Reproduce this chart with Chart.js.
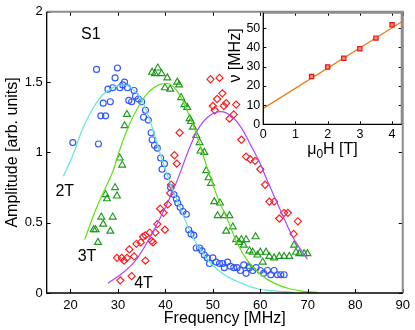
<!DOCTYPE html>
<html lang="en">
<head>
    <meta charset="UTF-8">
    <title>S1 resonance amplitude</title>
    <script src="https://cdn.jsdelivr.net/npm/chart.js"></script>
    <style>
        html, body { margin: 0; padding: 0; background: #fff; }
        #wrap { position: relative; width: 415px; height: 330px; }
        #main { position: absolute; left: 0; top: 0; }
        #inset { position: absolute; left: 225px; top: 0; }
    </style>
</head>
<body>
<div id="wrap">
    <canvas id="main" width="415" height="330"></canvas>
    <canvas id="inset" width="190" height="160"></canvas>
</div>
<script>
    // ---- main panel: amplitude vs frequency ----
    const freqTicks = [20, 30, 40, 50, 60, 70, 80, 90];
    const ampTicks = [0, 0.5, 1, 1.5, 2];

    // measured points [MHz, amplitude]
    const pts2T = [
        [20.5, 1.07], [25.5, 1.59], [25.9, 1.06], [26.4, 1.26], [26.9, 1.35], [27.4, 1.26],
        [27.9, 1.45], [28.4, 1.36], [28.9, 1.46], [29.4, 1.53], [29.9, 1.60], [30.4, 1.46],
        [31.0, 1.48], [31.4, 1.50], [32.0, 1.46], [32.3, 1.37], [32.9, 1.36], [33.4, 1.44],
        [33.7, 1.40], [34.3, 1.38], [35.0, 1.36], [35.4, 1.25], [35.8, 1.30], [36.4, 1.23],
        [37.0, 1.14], [37.2, 1.09], [37.7, 1.05], [38.3, 1.03], [39.0, 0.96], [39.3, 0.88],
        [39.8, 0.92], [40.4, 0.83], [41.1, 0.75], [41.8, 0.70], [42.3, 0.67], [42.6, 0.64],
        [43.1, 0.61], [43.7, 0.58], [44.4, 0.56], [44.9, 0.45], [45.4, 0.42], [46.0, 0.41],
        [46.5, 0.32], [47.2, 0.32], [47.7, 0.30], [48.2, 0.27], [48.8, 0.25], [49.3, 0.21],
        [50.0, 0.25], [50.7, 0.22], [51.4, 0.21], [52.1, 0.21], [52.4, 0.18], [53.1, 0.22],
        [53.7, 0.19], [54.4, 0.18], [55.1, 0.18], [55.8, 0.16], [56.5, 0.20], [57.0, 0.14],
        [57.7, 0.18], [58.4, 0.16], [59.1, 0.18], [60.0, 0.16], [60.7, 0.14], [61.5, 0.16],
        [62.2, 0.13], [62.9, 0.16], [63.6, 0.13], [64.3, 0.13], [65.0, 0.13]
    ];
    const pts3T = [
        [24.9, 0.45], [25.3, 0.45], [25.8, 0.36], [26.5, 0.54], [26.9, 0.49], [27.4, 0.70],
        [27.7, 0.67], [28.4, 0.44], [28.9, 0.54], [29.4, 0.75], [29.8, 0.69], [30.4, 0.96],
        [30.9, 0.91], [31.4, 1.19], [31.9, 1.27], [37.2, 1.57], [37.8, 1.56], [38.4, 1.60],
        [39.2, 1.56], [39.9, 1.46], [40.4, 1.53], [41.0, 1.45], [42.5, 1.50], [42.9, 1.48],
        [43.3, 1.39], [44.0, 1.34], [44.6, 1.32], [45.1, 1.24], [45.4, 1.22], [45.8, 1.18],
        [46.5, 1.12], [47.2, 1.07], [47.4, 1.01], [48.2, 1.00], [48.6, 0.87], [49.1, 0.82],
        [49.6, 0.78], [50.3, 0.65], [51.5, 0.64], [51.0, 0.55], [52.4, 0.55], [53.5, 0.55],
        [52.8, 0.44], [54.2, 0.47], [54.9, 0.38], [55.5, 0.36], [56.0, 0.38], [56.5, 0.34],
        [57.0, 0.38], [57.5, 0.19], [57.7, 0.30], [58.4, 0.29], [59.0, 0.40], [59.4, 0.27],
        [60.0, 0.29], [60.5, 0.22], [61.2, 0.29], [61.9, 0.26], [62.9, 0.25], [64.0, 0.26],
        [65.0, 0.26], [66.1, 0.26], [67.1, 0.34], [67.5, 0.29], [68.2, 0.28], [69.2, 0.28],
        [69.9, 0.28]
    ];
    const pts4T = [
        [29.8, 0.25], [30.5, 0.09], [30.8, 0.25], [31.3, 0.23], [31.9, 0.25], [32.4, 0.31],
        [32.9, 0.12], [33.4, 0.26], [33.9, 0.35], [34.8, 0.36], [35.3, 0.40], [35.8, 0.41],
        [35.8, 0.23], [36.7, 0.43], [37.1, 0.37], [37.4, 0.36], [37.9, 0.43], [38.3, 0.49],
        [38.9, 0.60], [39.6, 0.57], [39.9, 0.45], [40.5, 0.63], [41.0, 0.71], [41.2, 0.77],
        [41.9, 0.98], [42.4, 0.92], [43.0, 1.14], [49.5, 1.52], [51.4, 1.53], [52.0, 1.42],
        [50.9, 1.38], [50.0, 1.33], [52.8, 1.35], [52.3, 1.33], [54.9, 1.34], [50.4, 1.30],
        [54.4, 1.27], [53.5, 1.24], [56.0, 1.09], [57.0, 0.97], [57.9, 0.95], [58.9, 0.94],
        [60.0, 0.88], [61.0, 0.77], [61.9, 0.65], [62.9, 0.65], [64.0, 0.53], [65.0, 0.57],
        [65.8, 0.57], [67.0, 0.42], [67.9, 0.51]
    ];

    // fitted curves
    const fit2T = [
        [18.5, 0.83], [20.5, 0.98], [22.6, 1.17], [24.7, 1.31], [26.8, 1.41], [28.9, 1.46],
        [31.0, 1.48], [33.1, 1.45], [35.2, 1.36], [37.3, 1.17], [39.0, 0.98], [40.4, 0.84],
        [41.5, 0.74], [43.3, 0.59], [45.4, 0.42], [47.5, 0.30], [49.6, 0.21], [52.4, 0.13],
        [56.0, 0.07], [59.4, 0.03], [63.0, 0.015], [67.0, 0.005]
    ];
    const fit3T = [
        [23.0, 0.38], [25.3, 0.59], [27.4, 0.75], [28.9, 0.86], [30.2, 1.00], [32.3, 1.19],
        [34.4, 1.33], [36.5, 1.43], [38.6, 1.48], [40.5, 1.49], [42.6, 1.43], [44.7, 1.29],
        [46.8, 1.10], [48.9, 0.88], [51.0, 0.68], [53.1, 0.52], [55.2, 0.35], [57.3, 0.23],
        [60.1, 0.13], [62.9, 0.07], [66.1, 0.03], [69.0, 0.012], [72.0, 0.005]
    ];
    const fit4T = [
        [27.9, 0.07], [30.9, 0.14], [33.7, 0.23], [36.5, 0.38], [39.0, 0.54], [41.1, 0.69],
        [42.6, 0.81], [44.7, 1.00], [46.8, 1.16], [48.9, 1.25], [51.7, 1.29], [53.8, 1.26],
        [55.9, 1.18], [58.0, 1.05], [60.1, 0.91], [61.2, 0.82], [63.3, 0.66], [65.0, 0.53],
        [66.8, 0.40], [69.9, 0.24]
    ];

    const panelLabels = ['S1', '2T', '3T', '4T'];
    const panelLabelAt = [[24.3, 1.84], [18.8, 0.72], [23.5, 0.26], [35.4, 0.07]];

    // ---- inset: resonance frequency vs field ----
    const fieldT = [1.5, 2, 2.5, 3, 3.5, 4];
    const resFreq = [24.8, 29.8, 34.3, 39.3, 44.8, 51.7];
    const lineField = [0, 4.3];
    const lineFreq = [8.3, 53.3];
    const fieldTicks = [0, 1, 2, 3, 4];
    const nuTicks = [0, 10, 20, 30, 40, 50];

    const FONT = '"Liberation Sans", Arial, Helvetica, sans-serif';
    Chart.defaults.font.family = FONT;
    Chart.defaults.color = '#000';

    const xy = arr => arr.map(([x, y]) => ({ x, y }));

    function setTicks(values) {
        return scale => { scale.ticks = values.map(v => ({ value: v })); };
    }

    // inward ticks + matlab style box
    function framePlugin(tickLen) {
        return {
            id: 'frame',
            afterDraw(chart) {
                const { ctx, chartArea: a, scales: { x, y } } = chart;
                ctx.save();
                ctx.strokeStyle = '#000';
                ctx.lineWidth = 1;
                ctx.beginPath();
                x.ticks.forEach(t => {
                    const px = Math.round(x.getPixelForValue(t.value)) + 0.5;
                    ctx.moveTo(px, a.bottom); ctx.lineTo(px, a.bottom - tickLen);
                    ctx.moveTo(px, a.top); ctx.lineTo(px, a.top + tickLen);
                });
                y.ticks.forEach(t => {
                    const py = Math.round(y.getPixelForValue(t.value)) + 0.5;
                    ctx.moveTo(a.left, py); ctx.lineTo(a.left + tickLen, py);
                    ctx.moveTo(a.right, py); ctx.lineTo(a.right - tickLen, py);
                });
                ctx.stroke();

                ctx.strokeStyle = '#8c8c8c';
                ctx.lineWidth = 2;
                ctx.beginPath();
                ctx.moveTo(a.left, a.top); ctx.lineTo(a.right, a.top); ctx.lineTo(a.right, a.bottom);
                ctx.stroke();

                ctx.strokeStyle = '#000';
                ctx.lineWidth = 1.3;
                ctx.beginPath();
                ctx.moveTo(a.left, a.top); ctx.lineTo(a.left, a.bottom); ctx.lineTo(a.right, a.bottom);
                ctx.stroke();
                ctx.restore();
            }
        };
    }

    const panelText = {
        id: 'panelText',
        afterDatasetsDraw(chart) {
            const { ctx, scales: { x, y } } = chart;
            ctx.save();
            ctx.font = '16px ' + FONT;
            ctx.fillStyle = '#000';
            ctx.textAlign = 'center';
            ctx.textBaseline = 'middle';
            panelLabels.forEach((t, i) => {
                ctx.fillText(t, x.getPixelForValue(panelLabelAt[i][0]), y.getPixelForValue(panelLabelAt[i][1]));
            });
            ctx.restore();
        }
    };

    const curve = (data, color) => ({
        data: xy(data), showLine: true, borderColor: color, borderWidth: 1.2,
        pointRadius: 0, cubicInterpolationMode: 'monotone', fill: false
    });
    const marks = (data, style, color, r) => ({
        data: xy(data), showLine: false, pointStyle: style, pointRadius: r,
        pointBorderColor: color, pointBackgroundColor: 'rgba(0,0,0,0)', pointBorderWidth: 1.15
    });

    new Chart(document.getElementById('main'), {
        type: 'scatter',
        data: {
            datasets: [
                curve(fit2T, '#62e8d6'),
                curve(fit3T, '#5ee014'),
                curve(fit4T, '#b044ff'),
                marks(pts2T, 'circle', '#3355ff', 3),
                marks(pts3T, 'triangle', '#1e9a1e', 4),
                marks(pts4T, 'rectRot', '#ff1a1a', 3.6)
            ]
        },
        options: {
            responsive: false,
            animation: false,
            devicePixelRatio: 1,
            layout: { padding: { top: 11, right: 11, left: 0, bottom: 0 } },
            plugins: { legend: { display: false }, tooltip: { enabled: false } },
            scales: {
                x: {
                    type: 'linear', min: 15, max: 90,
                    afterBuildTicks: setTicks(freqTicks),
                    afterFit: s => { s.height = 37; },
                    grid: { display: false, drawTicks: false, tickLength: 0 },
                    border: { display: false },
                    ticks: { font: { size: 13 }, padding: 5, maxRotation: 0, callback: v => String(v) },
                    title: { display: true, text: 'Frequency [MHz]', font: { size: 16 }, padding: { top: 0, bottom: 2 } }
                },
                y: {
                    type: 'linear', min: 0, max: 2,
                    afterBuildTicks: setTicks(ampTicks),
                    afterFit: s => { s.width = 46.7; },
                    grid: { display: false, drawTicks: false, tickLength: 0 },
                    border: { display: false },
                    ticks: { font: { size: 13 }, padding: 4, callback: v => String(v) },
                    title: { display: true, text: 'Amplitude [arb. units]', font: { size: 16 }, padding: { top: 3, bottom: 0 } }
                }
            }
        },
        plugins: [framePlugin(4), panelText]
    });

    // inset
    const insetBg = {
        id: 'insetBg',
        beforeDraw(chart) {
            const { ctx, chartArea: a } = chart;
            ctx.save();
            ctx.fillStyle = '#fff';
            ctx.fillRect(a.left, a.top, a.right - a.left, a.bottom - a.top);
            ctx.restore();
        }
    };

    const insetTitles = {
        id: 'insetTitles',
        afterDraw(chart) {
            const { ctx, chartArea: a } = chart;
            ctx.save();
            ctx.fillStyle = '#000';
            // x title with subscript
            const big = '16px ' + FONT, small = '12px ' + FONT;
            ctx.font = big;
            const wMu = ctx.measureText('\u03bc').width;
            const wH = ctx.measureText('H [T]').width;
            ctx.font = small;
            const w0 = ctx.measureText('0').width;
            let x0 = (a.left + a.right) / 2 - (wMu + w0 + wH) / 2;
            const base = 153.5;
            ctx.textBaseline = 'alphabetic';
            ctx.textAlign = 'left';
            ctx.font = big;
            ctx.fillText('\u03bc', x0, base);
            ctx.font = small;
            ctx.fillText('0', x0 + wMu, base + 4);
            ctx.font = big;
            ctx.fillText('H [T]', x0 + wMu + w0, base);
            // y title
            ctx.translate(11, 55.5);
            ctx.rotate(-Math.PI / 2);
            ctx.textAlign = 'center';
            ctx.textBaseline = 'middle';
            ctx.fillText('\u03bd [MHz]', 0, 0);
            ctx.restore();
        }
    };

    new Chart(document.getElementById('inset'), {
        type: 'scatter',
        data: {
            datasets: [
                {
                    data: fieldT.map((f, i) => ({ x: f, y: resFreq[i] })),
                    showLine: false, pointStyle: 'rect', pointRadius: 3,
                    pointBorderColor: '#e81818', pointBackgroundColor: '#ff8a7a', pointBorderWidth: 1.2
                },
                {
                    data: lineField.map((f, i) => ({ x: f, y: lineFreq[i] })),
                    showLine: true, borderColor: '#ee7a14', borderWidth: 1.3, pointRadius: 0
                }
            ]
        },
        options: {
            responsive: false,
            animation: false,
            devicePixelRatio: 1,
            layout: { padding: { top: 12.7, right: 13.3, left: 0, bottom: 0 } },
            plugins: { legend: { display: false }, tooltip: { enabled: false } },
            scales: {
                x: {
                    type: 'linear', min: 0, max: 4.3,
                    afterBuildTicks: setTicks(fieldTicks),
                    afterFit: s => { s.height = 35.7; },
                    grid: { display: false, drawTicks: false, tickLength: 0 },
                    border: { display: false },
                    ticks: { font: { size: 12.5 }, padding: 3, maxRotation: 0, callback: v => String(v) }
                },
                y: {
                    type: 'linear', min: 0, max: 58,
                    afterBuildTicks: setTicks(nuTicks),
                    afterFit: s => { s.width = 38.3; },
                    grid: { display: false, drawTicks: false, tickLength: 0 },
                    border: { display: false },
                    ticks: { font: { size: 12.5 }, padding: 3, callback: v => String(v) }
                }
            }
        },
        plugins: [insetBg, framePlugin(3), insetTitles]
    });
</script>
</body>
</html>
